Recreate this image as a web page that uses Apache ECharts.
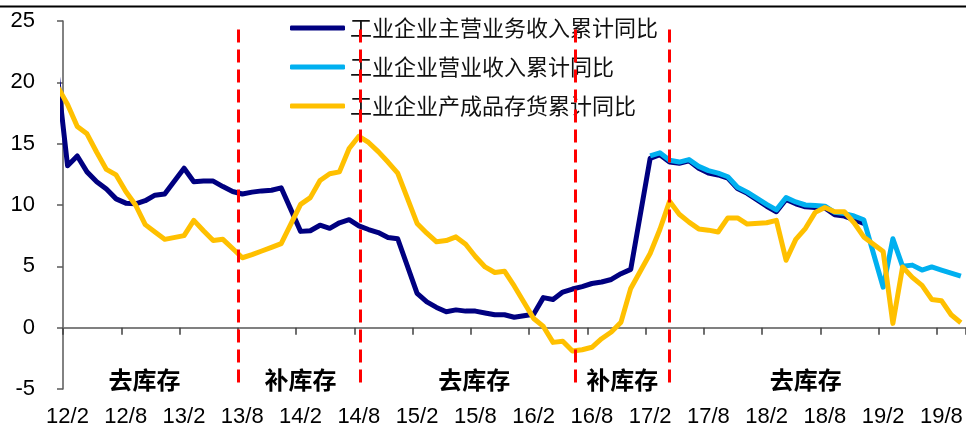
<!DOCTYPE html>
<html>
<head>
<meta charset="utf-8">
<script src="https://cdn.jsdelivr.net/npm/echarts@6/dist/echarts.min.js"></script>
<style>
  html, body { margin: 0; padding: 0; background: #fff; }
  #chart { width: 966px; height: 425px; }
</style>
</head>
<body>
<div id="chart"></div>
<script>
// Monthly releases (Jan is merged into the Jan-Feb figure, so no January points)
const months = [
  '2011-12',
  '2012-02','2012-03','2012-04','2012-05','2012-06','2012-07','2012-08','2012-09','2012-10','2012-11','2012-12',
  '2013-02','2013-03','2013-04','2013-05','2013-06','2013-07','2013-08','2013-09','2013-10','2013-11','2013-12',
  '2014-02','2014-03','2014-04','2014-05','2014-06','2014-07','2014-08','2014-09','2014-10','2014-11','2014-12',
  '2015-02','2015-03','2015-04','2015-05','2015-06','2015-07','2015-08','2015-09','2015-10','2015-11','2015-12',
  '2016-02','2016-03','2016-04','2016-05','2016-06','2016-07','2016-08','2016-09','2016-10','2016-11','2016-12',
  '2017-02','2017-03','2017-04','2017-05','2017-06','2017-07','2017-08','2017-09','2017-10','2017-11','2017-12',
  '2018-02','2018-03','2018-04','2018-05','2018-06','2018-07','2018-08','2018-09','2018-10','2018-11','2018-12',
  '2019-02','2019-03','2019-04','2019-05','2019-06','2019-07','2019-08','2019-09','2019-10'
];

// 工业企业主营业务收入累计同比 (%)
const mainRevenue = [
  27.2,
  13.2, 14.0, 12.7, 11.9, 11.3, 10.5, 10.15, 10.1, 10.35, 10.8, 10.9,
  13.0, 11.9, 11.95, 11.95, 11.5, 11.1, 10.9, 11.05, 11.15, 11.2, 11.4,
  7.85, 7.9, 8.35, 8.1, 8.55, 8.8, 8.3, 8.0, 7.75, 7.35, 7.25,
  2.8, 2.1, 1.65, 1.3, 1.45, 1.35, 1.35, 1.2, 1.05, 1.05, 0.85,
  1.1, 2.45, 2.3, 2.9, 3.15, 3.35, 3.6, 3.72, 3.93, 4.4, 4.75,
  13.8, 14.1, 13.5, 13.4, 13.6, 13.0, 12.6, 12.45, 12.2, 11.35, 10.95,
  9.9, 9.45, 10.45, 10.1, 9.85, 9.8, 9.75, 9.2, 9.1, 8.8, 8.5,
  null, null, null, null, null, null, null, null, null
];

// 工业企业营业收入累计同比 (%)
const revenue = [
  null,
  null, null, null, null, null, null, null, null, null, null, null,
  null, null, null, null, null, null, null, null, null, null, null,
  null, null, null, null, null, null, null, null, null, null, null,
  null, null, null, null, null, null, null, null, null, null, null,
  null, null, null, null, null, null, null, null, null, null, null,
  14.0, 14.25, 13.65, 13.5, 13.7, 13.15, 12.8, 12.6, 12.3, 11.45, 11.05,
  10.05, 9.6, 10.6, 10.25, 10.0, 9.95, 9.9, 9.4, 9.3, 9.1, 8.8,
  3.3, 7.25, 5.0, 5.1, 4.7, 4.95, 4.7, 4.45, 4.2
];

// 工业企业产成品存货累计同比 (%)
const finishedGoods = [
  21.0,
  18.2, 16.4, 15.8, 14.3, 12.9, 12.45, 11.1, 10.0, 8.4, 7.8, 7.2,
  7.5, 8.75, 7.9, 7.1, 7.2, 6.45, 5.7, 5.95, 6.25, 6.55, 6.85,
  10.05, 10.6, 12.0, 12.55, 12.7, 14.6, 15.6, 15.1, 14.35, 13.5, 12.6,
  8.5, 7.7, 7.0, 7.1, 7.4, 6.8, 5.8, 4.95, 4.5, 4.6, 3.4,
  0.75, 0.1, -1.2, -1.1, -1.9, -1.8, -1.6, -0.9, -0.35, 0.45, 3.2,
  6.05, 8.0, 10.3, 9.25, 8.6, 8.05, 7.95, 7.8, 8.95, 8.95, 8.45,
  8.55, 8.75, 5.5, 7.2, 8.1, 9.4, 9.8, 9.45, 9.45, 8.55, 7.4,
  6.2, 0.35, 4.95, 4.1, 3.45, 2.3, 2.2, 1.05, 0.4
];

const seriesNames = ['工业企业主营业务收入累计同比', '工业企业营业收入累计同比', '工业企业产成品存货累计同比'];

// Inventory-cycle phases and the months (counted from 2012-02) where they switch
const phaseNames = ['去库存', '补库存', '去库存', '补库存', '去库存'];
const phaseBreaks = [18.1, 30.6, 52.8, 62.4];

// Y axis ticks
const yTicks = [-5, 0, 5, 10, 15, 20, 25];

// x position: months elapsed since Feb 2012, each release sitting mid-month
function monthPos(s) {
  const [y, m] = s.split('-').map(Number);
  return (y - 2012) * 12 + (m - 2) + 0.47;
}
function toPairs(vals) {
  const out = [];
  months.forEach((mo, k) => { if (vals[k] !== null) out.push([monthPos(mo), vals[k]]); });
  return out;
}
function tickLabel(v) {
  const n = Math.round(v);
  if (Math.abs(v - n) > 1e-6 || n % 6 !== 0) return '';
  const t = 2012 * 12 + 1 + n;
  return (Math.floor(t / 12) % 100) + '/' + (t % 12 + 1);
}

const colors = ['#000080', '#00B0F0', '#FFC000'];
const labelCentres = [8.4, 24.45, 42.35, 57.6, 76.5];
const xRange = { type: 'value', min: 0, max: 93, interval: 6 };

const chart = echarts.init(document.getElementById('chart'), null, { renderer: 'canvas' });
chart.setOption({
  animation: false,
  backgroundColor: '#fff',
  textStyle: { fontFamily: 'Liberation Sans, Arial, sans-serif' },
  grid: { left: 63, right: 0, top: 21, bottom: 36, containLabel: false, outerBoundsMode: 'none' },
  legend: {
    orient: 'vertical',
    left: 285,
    top: 12,
    itemWidth: 55,
    itemHeight: 5,
    itemGap: 17,
    icon: 'roundRect',
    selectedMode: false,
    textStyle: { fontSize: 22, fontFamily: 'Noto Sans CJK SC', color: '#111' },
    data: seriesNames
  },
  xAxis: [
    {
      // axis line through zero with the half-year ticks
      ...xRange,
      axisLine: { onZero: true, lineStyle: { color: '#808080', width: 2 } },
      axisTick: { length: 7, lineStyle: { color: '#404040', width: 1.5 } },
      splitLine: { show: false },
      axisLabel: { show: false }
    },
    {
      // date labels along the bottom edge
      ...xRange,
      position: 'bottom',
      axisLine: { show: false, onZero: false },
      axisTick: { show: false },
      splitLine: { show: false },
      axisLabel: {
        formatter: tickLabel,
        showMaxLabel: false,
        hideOverlap: false,
        fontSize: 22,
        color: '#000',
        margin: 17,
        padding: [0, 0, 0, 9],
        fontFamily: 'Liberation Sans, Arial, sans-serif'
      }
    }
  ],
  yAxis: {
    type: 'value',
    min: yTicks[0],
    max: yTicks[yTicks.length - 1],
    interval: 5,
    axisLine: { show: true, lineStyle: { color: '#595959', width: 1.5 } },
    axisTick: { show: true, length: 6, lineStyle: { color: '#595959', width: 1.5 } },
    splitLine: { show: false },
    axisLabel: { fontSize: 22, color: '#000', margin: 28, fontFamily: 'Liberation Sans, Arial, sans-serif' }
  },
  graphic: [{
    type: 'line',
    shape: { x1: 0, y1: 6.5, x2: 966, y2: 6.5 },
    style: { stroke: '#000', lineWidth: 2 },
    silent: true
  }],
  series: [
    {
      name: seriesNames[0], type: 'line', data: toPairs(mainRevenue), symbol: 'none', clip: true, z: 2,
      lineStyle: { width: 5, color: colors[0], join: 'round' }, itemStyle: { color: colors[0] },
      markLine: {
        silent: true, z: 10, symbol: ['none', 'none'], animation: false,
        label: { show: false },
        lineStyle: { color: '#FF0000', width: 3, type: [13, 7] },
        data: phaseBreaks.map(b => [{ coord: [b, 24.3] }, { coord: [b, -4.7] }])
      }
    },
    {
      name: seriesNames[1], type: 'line', data: toPairs(revenue), symbol: 'none', clip: true, z: 3,
      lineStyle: { width: 5, color: colors[1], join: 'round' }, itemStyle: { color: colors[1] }
    },
    {
      name: seriesNames[2], type: 'line', data: toPairs(finishedGoods), symbol: 'none', clip: true, z: 4,
      lineStyle: { width: 5, color: colors[2], join: 'round' }, itemStyle: { color: colors[2] },
      markPoint: {
        silent: true, animation: false,
        symbol: 'rect', symbolSize: 1, itemStyle: { color: 'rgba(0,0,0,0)' },
        label: {
          show: true, position: 'inside', formatter: '{b}',
          fontSize: 24, fontWeight: 'bold', color: '#000', fontFamily: 'Noto Sans CJK SC'
        },
        data: phaseNames.map((n, k) => ({ name: n, coord: [labelCentres[k], -4.28] }))
      }
    }
  ]
});
</script>
</body>
</html>
